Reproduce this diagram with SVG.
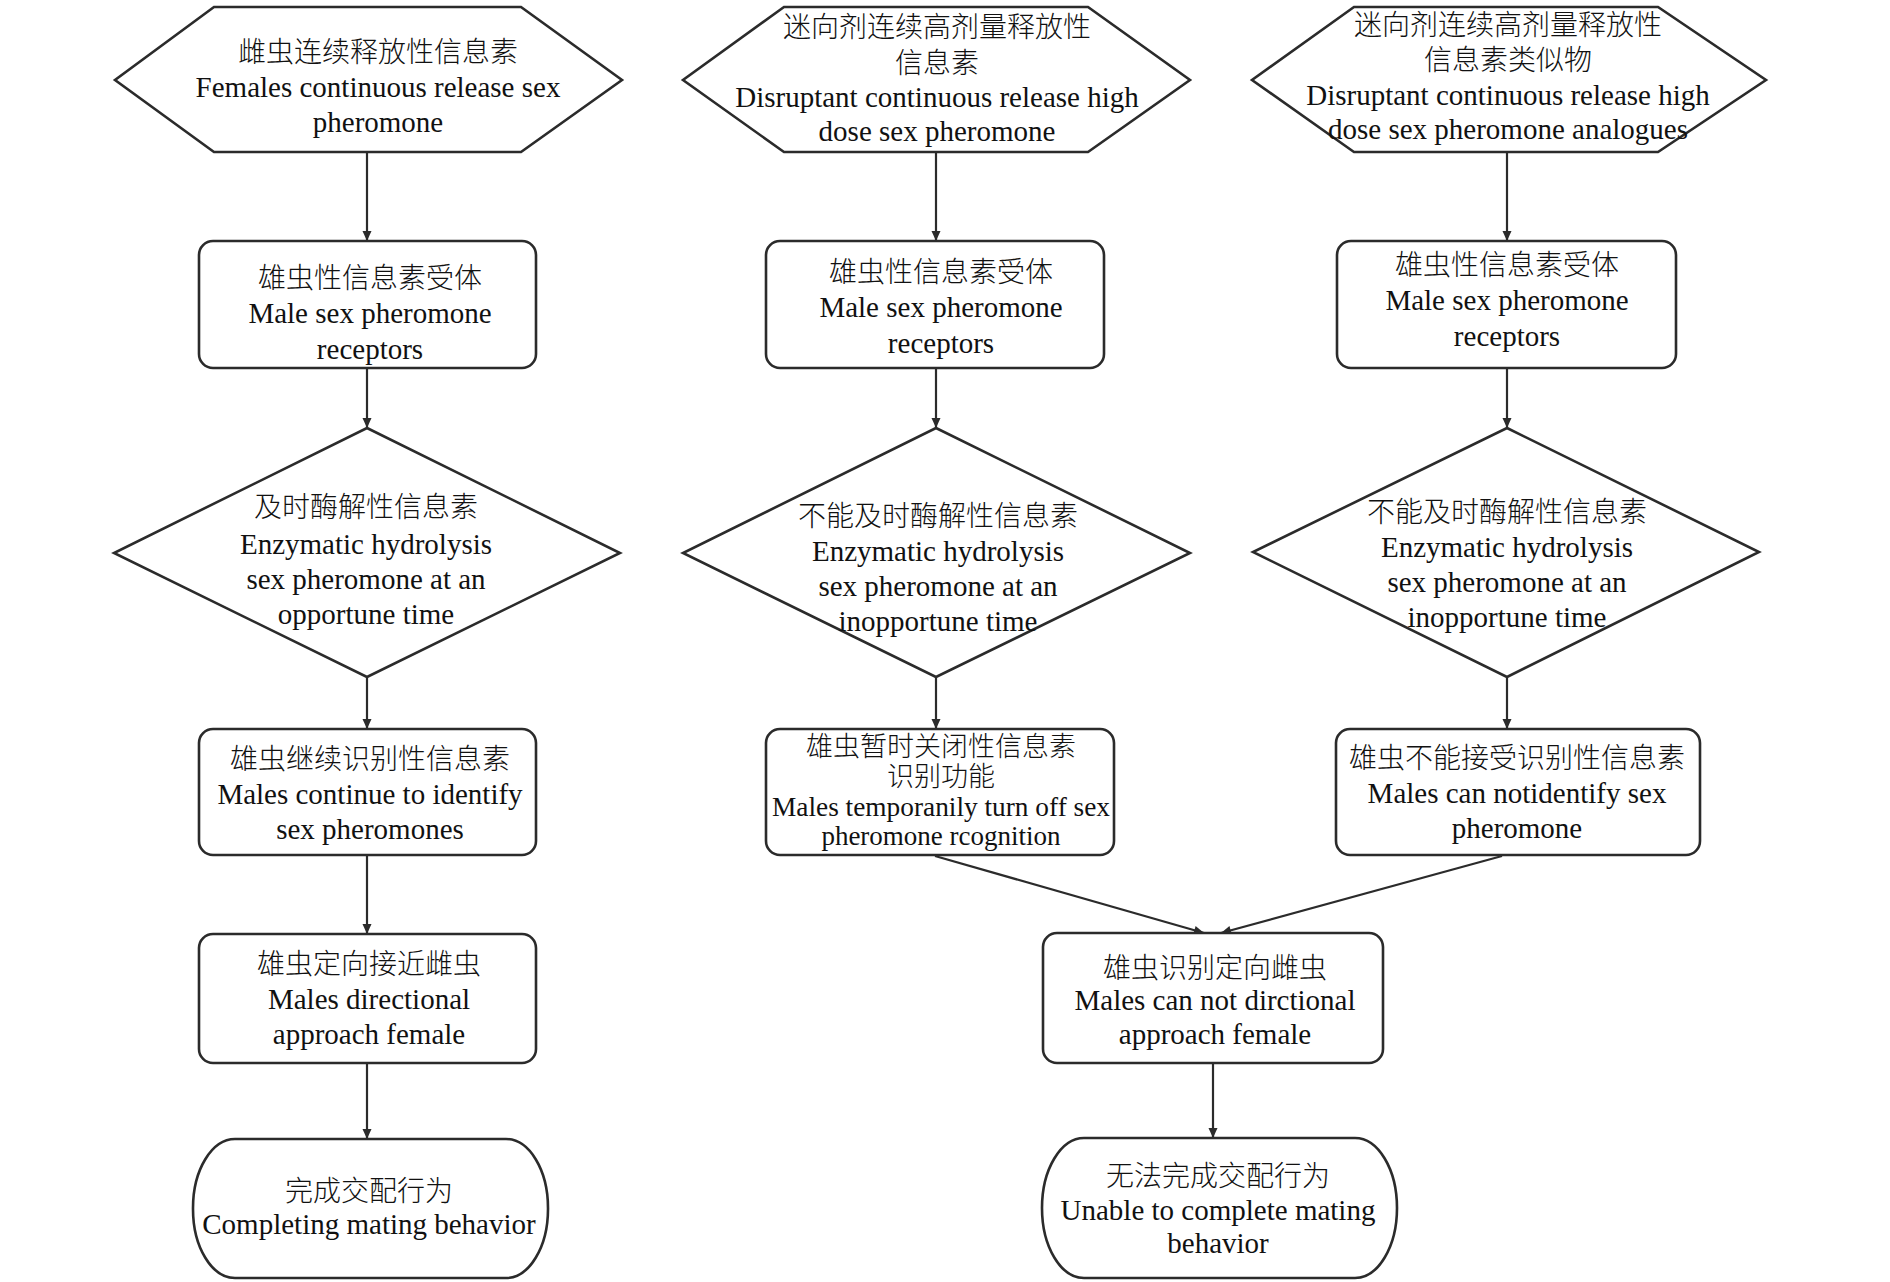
<svg xmlns="http://www.w3.org/2000/svg" width="1890" height="1282" viewBox="0 0 1890 1282">
<defs>
<style>
.shape{fill:#fff;stroke:#2b2b2b;stroke-width:2.6}
.conn{fill:none;stroke:#2b2b2b;stroke-width:2.2}
.en{font-family:"Liberation Serif","Times New Roman",serif;font-size:29px;fill:#111;text-anchor:middle}
.zh{font-family:"Noto Sans CJK SC","Noto Sans CJK TC",sans-serif;font-weight:300;font-size:28px;fill:#111;text-anchor:middle}
.tight{font-size:27px}
</style>
<marker id="arr" markerUnits="userSpaceOnUse" markerWidth="12" markerHeight="12" viewBox="0 0 12 12" refX="11" refY="6" orient="auto">
<path d="M1,1.5 L11,6 L1,10.5 Z" fill="#2b2b2b"/>
</marker>
</defs>
<rect width="1890" height="1282" fill="#fff"/>

<g id="connectors">
<line class="conn" x1="367" y1="152" x2="367" y2="241" marker-end="url(#arr)"/>
<line class="conn" x1="367" y1="368" x2="367" y2="428" marker-end="url(#arr)"/>
<line class="conn" x1="367" y1="677" x2="367" y2="729" marker-end="url(#arr)"/>
<line class="conn" x1="367" y1="855" x2="367" y2="934" marker-end="url(#arr)"/>
<line class="conn" x1="367" y1="1063" x2="367" y2="1139" marker-end="url(#arr)"/>
<line class="conn" x1="936" y1="152" x2="936" y2="241" marker-end="url(#arr)"/>
<line class="conn" x1="936" y1="368" x2="936" y2="428" marker-end="url(#arr)"/>
<line class="conn" x1="936" y1="677" x2="936" y2="729" marker-end="url(#arr)"/>
<line class="conn" x1="935" y1="856" x2="1204" y2="933" marker-end="url(#arr)"/>
<line class="conn" x1="1213" y1="1063" x2="1213" y2="1138" marker-end="url(#arr)"/>
<line class="conn" x1="1507" y1="152" x2="1507" y2="241" marker-end="url(#arr)"/>
<line class="conn" x1="1507" y1="368" x2="1507" y2="428" marker-end="url(#arr)"/>
<line class="conn" x1="1507" y1="677" x2="1507" y2="729" marker-end="url(#arr)"/>
<line class="conn" x1="1502" y1="856" x2="1221" y2="933" marker-end="url(#arr)"/>
</g>

<g id="n1">
<polygon class="shape" points="214,7 521,7 622,80 521,152 214,152 115,80"/>
<text class="zh" x="378" y="62">雌虫连续释放性信息素</text>
<text class="en" x="378" y="97">Females continuous release sex</text>
<text class="en" x="378" y="132">pheromone</text>
</g>
<g id="n2">
<rect class="shape" x="199" y="241" width="337" height="127" rx="14"/>
<text class="zh" x="370" y="288">雄虫性信息素受体</text>
<text class="en" x="370" y="323">Male sex pheromone</text>
<text class="en" x="370" y="359">receptors</text>
</g>
<g id="n3">
<polygon class="shape" points="367,428 620,553 367,677 114,553"/>
<text class="zh" x="366" y="517">及时酶解性信息素</text>
<text class="en" x="366" y="554">Enzymatic hydrolysis</text>
<text class="en" x="366" y="589">sex pheromone at an</text>
<text class="en" x="366" y="624">opportune time</text>
</g>
<g id="n4">
<rect class="shape" x="199" y="729" width="337" height="126" rx="14"/>
<text class="zh" x="370" y="769">雄虫继续识别性信息素</text>
<text class="en" x="370" y="804">Males continue to identify</text>
<text class="en" x="370" y="839">sex pheromones</text>
</g>
<g id="n5">
<rect class="shape" x="199" y="934" width="337" height="129" rx="14"/>
<text class="zh" x="369" y="974">雄虫定向接近雌虫</text>
<text class="en" x="369" y="1009">Males directional</text>
<text class="en" x="369" y="1044">approach female</text>
</g>
<g id="n6">
<rect class="shape" x="193" y="1139" width="355" height="139" rx="42" ry="69"/>
<text class="zh" x="369" y="1201">完成交配行为</text>
<text class="en" x="369" y="1234">Completing mating behavior</text>
</g>

<g id="m1">
<polygon class="shape" points="784,7 1088,7 1190,80 1088,152 784,152 683,80"/>
<text class="zh" x="937" y="37">迷向剂连续高剂量释放性</text>
<text class="zh" x="937" y="73">信息素</text>
<text class="en" x="937" y="107">Disruptant continuous release high</text>
<text class="en" x="937" y="141">dose sex pheromone</text>
</g>
<g id="m2">
<rect class="shape" x="766" y="241" width="338" height="127" rx="14"/>
<text class="zh" x="941" y="282">雄虫性信息素受体</text>
<text class="en" x="941" y="317">Male sex pheromone</text>
<text class="en" x="941" y="353">receptors</text>
</g>
<g id="m3">
<polygon class="shape" points="936,428 1190,553 936,677 683,553"/>
<text class="zh" x="938" y="526">不能及时酶解性信息素</text>
<text class="en" x="938" y="561">Enzymatic hydrolysis</text>
<text class="en" x="938" y="596">sex pheromone at an</text>
<text class="en" x="938" y="631">inopportune time</text>
</g>
<g id="m4">
<rect class="shape" x="766" y="729" width="348" height="126" rx="14"/>
<text class="zh tight" x="941" y="756">雄虫暂时关闭性信息素</text>
<text class="zh tight" x="941" y="786">识别功能</text>
<text class="en tight" x="941" y="816" textLength="338" lengthAdjust="spacingAndGlyphs">Males temporanily turn off sex</text>
<text class="en tight" x="941" y="845">pheromone rcognition</text>
</g>

<g id="r1">
<polygon class="shape" points="1354,7 1658,7 1766,80 1658,152 1354,152 1252,80"/>
<text class="zh" x="1508" y="35">迷向剂连续高剂量释放性</text>
<text class="zh" x="1508" y="70">信息素类似物</text>
<text class="en" x="1508" y="105">Disruptant continuous release high</text>
<text class="en" x="1508" y="139">dose sex pheromone analogues</text>
</g>
<g id="r2">
<rect class="shape" x="1337" y="241" width="339" height="127" rx="14"/>
<text class="zh" x="1507" y="275">雄虫性信息素受体</text>
<text class="en" x="1507" y="310">Male sex pheromone</text>
<text class="en" x="1507" y="346">receptors</text>
</g>
<g id="r3">
<polygon class="shape" points="1507,428 1759,552 1507,677 1253,552"/>
<text class="zh" x="1507" y="522">不能及时酶解性信息素</text>
<text class="en" x="1507" y="557">Enzymatic hydrolysis</text>
<text class="en" x="1507" y="592">sex pheromone at an</text>
<text class="en" x="1507" y="627">inopportune time</text>
</g>
<g id="r4">
<rect class="shape" x="1336" y="729" width="364" height="126" rx="14"/>
<text class="zh" x="1517" y="768">雄虫不能接受识别性信息素</text>
<text class="en" x="1517" y="803">Males can notidentify sex</text>
<text class="en" x="1517" y="838">pheromone</text>
</g>

<g id="j1">
<rect class="shape" x="1043" y="933" width="340" height="130" rx="14"/>
<text class="zh" x="1215" y="978">雄虫识别定向雌虫</text>
<text class="en" x="1215" y="1010">Males can not dirctional</text>
<text class="en" x="1215" y="1044">approach female</text>
</g>
<g id="j2">
<rect class="shape" x="1042" y="1138" width="355" height="140" rx="42" ry="70"/>
<text class="zh" x="1218" y="1186">无法完成交配行为</text>
<text class="en" x="1218" y="1220">Unable to complete mating</text>
<text class="en" x="1218" y="1253">behavior</text>
</g>
</svg>
